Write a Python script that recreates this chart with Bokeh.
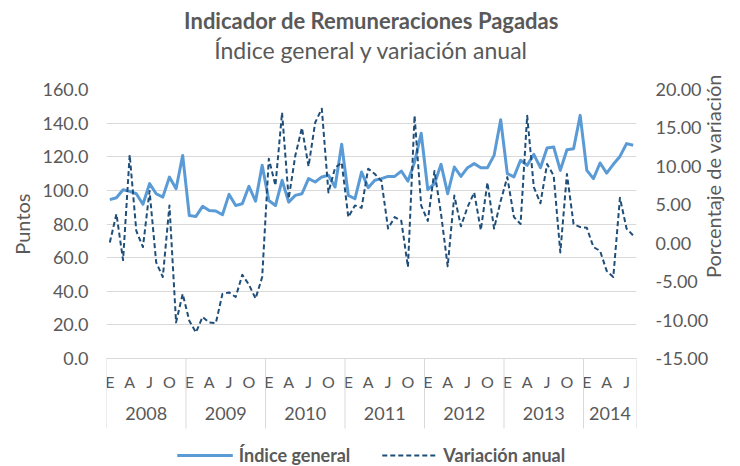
import math
import numpy as np
from bokeh.plotting import figure
from bokeh.models import (Range1d, LinearAxis, FixedTicker, Legend, LegendItem, Title,
                          NumeralTickFormatter, ColumnDataSource, Grid, Span)
from bokeh.core.properties import value
from bokeh.embed import file_html
from bokeh.resources import INLINE

# ---------------- data ----------------
years = ["2008", "2009", "2010", "2011", "2012", "2013", "2014"]
month_letters = {0: "E", 3: "A", 6: "J", 9: "O"}   # Enero, Abril, Julio, Octubre

indice = [94.5, 95.6, 100.4, 99.4, 98.0, 91.7, 104.0, 98.0, 96.0, 107.9, 101.0, 120.8,
          85.0, 84.5, 90.5, 88.0, 87.7, 85.5, 97.6, 91.0, 92.0, 102.4, 93.6, 114.9,
          94.0, 91.0, 106.0, 93.0, 97.0, 98.0, 107.0, 105.0, 108.0, 109.0, 102.0, 127.4,
          97.0, 95.0, 110.9, 101.6, 106.0, 107.0, 108.3, 108.3, 111.5, 105.5, 116.8, 134.0,
          100.4, 104.0, 115.5, 98.0, 113.9, 108.3, 113.5, 115.9, 113.5, 113.5, 120.8, 142.0,
          110.0, 108.0, 117.9, 114.9, 121.4, 113.5, 125.2, 125.8, 111.9, 124.2, 124.8, 144.6,
          111.9, 107.0, 116.3, 110.3, 115.5, 120.2, 127.8, 126.8]

variacion = [0.1, 3.8, -2.2, 11.5, 1.6, -0.5, 6.8, -2.5, -4.4, 4.9, -10.3, -6.6,
             -10.1, -11.6, -9.6, -10.3, -10.4, -6.6, -6.4, -7.0, -4.1, -5.4, -7.2, -4.4,
             11.0, 7.5, 17.0, 5.8, 11.4, 15.0, 10.0, 15.7, 17.5, 6.6, 9.8, 10.5,
             3.4, 4.9, 4.6, 9.7, 9.0, 8.1, 1.9, 3.4, 2.9, -3.1, 16.6, 4.9,
             2.9, 9.4, 3.8, -3.0, 6.2, 2.2, 4.7, 6.6, 1.7, 7.9, 1.9, 5.5,
             8.6, 3.4, 2.5, 16.6, 7.3, 5.2, 10.3, 8.8, -1.2, 9.0, 2.5, 2.1,
             2.0, -0.5, -1.0, -3.6, -4.4, 5.9, 1.9, 1.0]

left_ticks = [0, 20, 40, 60, 80, 100, 120, 140, 160]
right_ticks = [-15, -10, -5, 0, 5, 10, 15, 20]

FONT = "Lato"
GRAY = "#595959"
GRID = "#D9D9D9"

# layout (pixels)
W, H = 740, 466
TOP, LEFT, RIGHT = 89, 106, 103
PLOT_H = 269              # height of the value area (0..160)
BELOW = H - TOP - PLOT_H  # category-axis + legend area inside the frame

n = len(indice)
px_l = PLOT_H / (left_ticks[-1] - left_ticks[0])
px_r = PLOT_H / (right_ticks[-1] - right_ticks[0])
src = ColumnDataSource(dict(x=list(range(n)), indice=indice, variacion=variacion))

p = figure(width=W, height=H, output_backend="svg", toolbar_location=None, title=None,
           x_range=Range1d(-0.5, n - 0.5),
           y_range=Range1d(left_ticks[0] - BELOW / px_l, left_ticks[-1]),
           x_axis_type=None, y_axis_type=None,
           min_border_left=LEFT, min_border_right=RIGHT, min_border_top=TOP, min_border_bottom=0)
p.outline_line_color = None
p.background_fill_color = "white"
p.border_fill_color = "white"
p.extra_y_ranges = {"pct": Range1d(right_ticks[0] - BELOW / px_r, right_ticks[-1])}

p.add_layout(Grid(dimension=1, ticker=FixedTicker(ticks=left_ticks),
                  grid_line_color=GRID, grid_line_width=1))

# left axis (tick labels only)
yl = LinearAxis(ticker=FixedTicker(ticks=left_ticks), formatter=NumeralTickFormatter(format="0.0"),
                axis_line_color=None, major_tick_line_color=None, minor_tick_line_color=None,
                major_tick_in=0, major_tick_out=0, major_label_standoff=18,
                major_label_text_font=FONT, major_label_text_font_size="18px",
                major_label_text_color=GRAY)
p.add_layout(yl, "left")
p.add_layout(Title(text="Puntos", align="right", offset=104, vertical_align="middle",
                   standoff=10, text_font=FONT, text_font_size="20px",
                   text_font_style="normal", text_color=GRAY), "left")

# right axis with its title
right_title = "Porcentaje de variación"
yr = LinearAxis(y_range_name="pct", ticker=FixedTicker(ticks=right_ticks),
                formatter=NumeralTickFormatter(format="0.00"),
                axis_line_color=None, major_tick_line_color=None, minor_tick_line_color=None,
                major_tick_in=0, major_tick_out=0, major_label_standoff=19,
                major_label_text_font=FONT, major_label_text_font_size="18px",
                major_label_text_color=GRAY,
                axis_label=right_title,
                axis_label_standoff=2, axis_label_text_font=FONT,
                axis_label_text_font_size="20px", axis_label_text_font_style="normal",
                axis_label_text_color=GRAY)
try:
    yr.axis_label_orientation = math.pi / 2      # read bottom to top
except Exception:
    pass
p.add_layout(yr, "right")

# category axis: base line, month letters, years, year separators
p.add_layout(Span(location=0, dimension="width", line_color=GRID, line_width=1))

month_ticks = [k for k in range(n) if k % 12 in month_letters]
p.text(x=month_ticks, y=[-23 / px_l] * len(month_ticks),
       text=[month_letters[k % 12] for k in month_ticks],
       text_align="center", text_baseline="middle", text_font=value(FONT),
       text_font_size=value("16px"), text_color=GRAY)

year_centers = [(12 * j + min(12 * (j + 1), n)) / 2 - 0.5 for j in range(len(years))]
p.text(x=year_centers, y=[-55 / px_l] * len(years), text=years,
       text_align="center", text_baseline="middle", text_font=value(FONT),
       text_font_size=value("18px"), text_color=GRAY)

sep_ticks = [12 * j - 0.5 for j in range(len(years))] + [n - 0.5]
p.segment(x0=sep_ticks, y0=[0] * len(sep_ticks), x1=sep_ticks,
          y1=[-70 / px_l] * len(sep_ticks), line_color=GRID, line_width=1)

# series
r1 = p.line("x", "indice", source=src, line_color="#5B9BD5", line_width=3, line_join="round")
r2 = p.line("x", "variacion", source=src, y_range_name="pct", line_color="#1F4E79",
            line_width=2, line_dash="5 3", line_join="round")

legend = Legend(items=[LegendItem(label="Índice general", renderers=[r1]),
                       LegendItem(label="Variación anual", renderers=[r2])],
                orientation="horizontal", location="bottom_center", padding=0, margin=0,
                spacing=31, glyph_width=56, glyph_height=20, label_standoff=6,
                label_height=20,
                label_text_font=FONT, label_text_font_size="18px",
                label_text_font_style="bold", label_text_color=GRAY,
                border_line_color=None, background_fill_alpha=0)
p.add_layout(legend)

# titles: invisible spacer next to the frame, then subtitle, then main title
p.add_layout(Title(text=".", text_font_size="10px", text_color="white", standoff=15,
                   align="center"), "above")
p.add_layout(Title(text="Índice general y variación anual", align="center",
                   vertical_align="middle", standoff=0, text_font=FONT,
                   text_font_size="23px", text_font_style="normal", text_color=GRAY), "above")
p.add_layout(Title(text="Indicador de Remuneraciones Pagadas", align="center",
                   vertical_align="middle", standoff=0, text_font=FONT,
                   text_font_size="22px", text_font_style="bold", text_color=GRAY), "above")

open("out.html", "w").write(file_html(p, INLINE))
